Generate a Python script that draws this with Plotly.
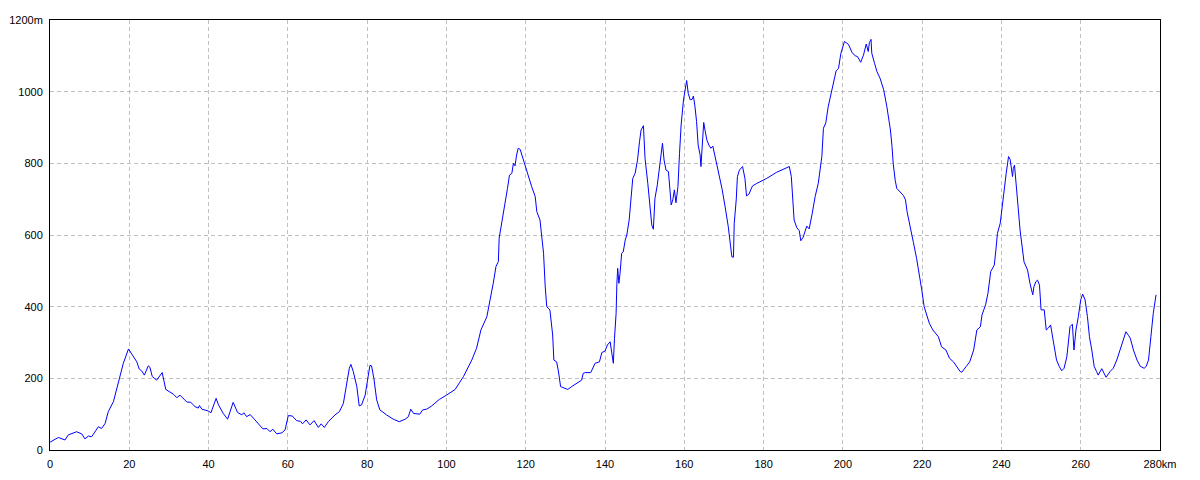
"""標高プロファイル（Plotly）"""
import plotly.graph_objects as go

# 距離 (km)
dist_km = [
    0.0, 0.2, 2.1, 3.8, 4.6, 6.7, 8.0, 8.8, 9.7, 10.5, 12.2, 13.0, 13.9, 14.7, 16.0, 16.8,
    17.7, 18.5, 19.8, 21.0, 21.9, 22.5, 23.1, 23.8, 24.8, 25.2, 25.8, 26.9, 28.3, 29.2, 30.3,
    31.1, 32.0, 32.8, 34.5, 35.5, 36.6, 37.4, 37.7, 38.3, 39.9, 40.6, 41.9, 42.5, 43.7, 44.8,
    46.2, 47.3, 48.4, 48.9, 49.6, 50.5, 51.7, 53.0, 53.7, 54.7, 55.5, 56.2, 57.2, 58.5, 59.3,
    60.1, 61.1, 62.2, 63.2, 63.7, 64.6, 65.6, 66.6, 67.7, 68.4, 69.2, 70.2, 71.9, 73.0, 74.0,
    74.8, 75.5, 75.9, 76.5, 77.4, 78.0, 78.6, 79.5, 80.1, 80.7, 81.1, 81.7, 82.4, 83.2, 84.9,
    86.6, 88.1, 89.6, 90.4, 91.0, 91.7, 93.3, 94.0, 95.0, 96.3, 97.6, 98.2, 100.0, 102.2,
    104.3, 106.4, 107.6, 108.7, 110.2, 111.0, 111.8, 112.5, 113.1, 113.3, 113.9, 114.8, 115.4,
    115.9, 116.5, 116.9, 117.3, 117.7, 118.1, 118.6, 119.4, 120.3, 121.5, 122.4, 122.8, 123.6,
    124.0, 124.5, 124.9, 125.3, 126.1, 126.8, 127.1, 127.8, 128.2, 128.8, 129.9, 130.6, 131.6,
    133.3, 134.1, 134.5, 135.0, 136.4, 137.5, 138.6, 139.2, 140.0, 140.6, 141.3, 141.7, 142.1,
    142.4, 142.8, 143.0, 143.2, 143.5, 143.8, 144.2, 144.6, 145.1, 145.5, 146.1, 146.5, 147.0,
    147.6, 148.2, 148.7, 149.1, 149.7, 150.1, 150.8, 151.4, 151.8, 152.2, 152.6, 153.2, 153.7,
    154.1, 154.5, 154.9, 155.4, 156.0, 156.4, 156.7, 157.1, 157.5, 157.9, 158.4, 158.8, 159.2,
    159.8, 160.3, 160.6, 161.0, 161.5, 162.0, 162.3, 162.7, 163.1, 163.5, 164.0, 164.2, 164.6,
    164.9, 165.3, 165.7, 166.2, 166.7, 167.2, 167.8, 168.6, 169.5, 170.3, 171.1, 171.7, 172.0,
    172.4, 172.6, 173.1, 173.4, 173.9, 174.7, 175.3, 175.7, 176.3, 177.2, 178.3, 180.8, 183.3,
    185.8, 186.5, 187.0, 187.3, 187.7, 188.4, 189.0, 189.4, 190.0, 190.9, 191.5, 192.2, 193.0,
    193.8, 194.7, 195.1, 195.7, 196.3, 197.2, 197.8, 198.3, 198.9, 199.5, 200.4, 201.4, 202.3,
    203.1, 203.7, 204.5, 205.2, 205.9, 206.4, 206.7, 207.1, 207.3, 208.0, 208.6, 209.4, 210.3,
    211.1, 212.0, 212.4, 212.7, 213.2, 213.6, 215.3, 215.8, 216.2, 217.2, 217.8, 218.6, 219.4,
    219.9, 220.5, 221.2, 221.8, 222.7, 224.1, 224.9, 226.0, 226.9, 227.9, 229.6, 230.0, 231.1,
    232.0, 233.0, 233.8, 234.7, 235.1, 236.0, 236.6, 237.3, 238.2, 238.6, 239.0, 239.7, 240.1,
    240.7, 241.2, 241.8, 242.2, 242.8, 243.0, 243.3, 243.9, 244.7, 245.7, 246.6, 247.2, 247.9,
    248.2, 248.7, 249.1, 249.6, 250.0, 250.8, 251.3, 251.8, 252.4, 253.1, 253.9, 254.6, 255.2,
    255.8, 256.5, 257.3, 257.9, 258.3, 258.8, 259.4, 260.0, 260.5, 261.1, 261.7, 262.2, 262.8,
    263.4, 264.0, 264.4, 265.3, 265.9, 266.4, 267.4, 268.2, 269.1, 270.1, 270.8, 271.4, 272.1,
    272.5, 273.3, 274.2, 275.0, 276.0, 276.5, 277.1, 277.7, 278.3, 279.0,
]

# 標高 (m)
elev_m = [
    22, 23, 35, 28, 42, 51, 45, 31, 39, 37, 65, 60, 74, 107, 135, 167,
    205, 242, 282, 260, 246, 226, 221, 209, 235, 231, 205, 195, 216, 169, 160,
    156, 146, 153, 134, 133, 121, 117, 124, 114, 109, 104, 144, 126, 102, 86,
    133, 105, 98, 104, 93, 99, 84, 67, 59, 60, 51, 58, 45, 48, 56,
    96, 95, 82, 80, 73, 84, 70, 82, 63, 73, 63, 79, 98, 107, 130,
    177, 228, 239, 219, 177, 123, 126, 153, 195, 236, 235, 200, 140, 112, 98,
    86, 79, 86, 93, 114, 102, 100, 112, 114, 123, 135, 141, 153, 169,
    205, 251, 284, 335, 372, 414, 465, 512, 526, 591, 628, 684, 730,
    767, 772, 800, 793, 823, 842, 839, 809, 777, 735, 707, 665, 642,
    595, 549, 460, 400, 391, 321, 251, 246, 223, 177, 172, 169, 177,
    191, 195, 214, 216, 216, 242, 246, 272, 276, 293, 302, 265, 242,
    312, 381, 465, 507, 465, 493, 549, 553, 586, 600, 642, 707, 758,
    772, 809, 860, 893, 905, 814, 744, 674, 628, 616, 702, 740, 781,
    823, 856, 809, 781, 777, 707, 684, 698, 726, 690, 735, 828, 907,
    977, 1019, 1031, 995, 977, 979, 988, 958, 916, 851, 823, 791, 865,
    914, 888, 865, 851, 842, 848, 819, 772, 730, 679, 623, 567, 539,
    538, 633, 698, 763, 781, 791, 758, 709, 714, 737, 744, 758, 775,
    789, 791, 763, 698, 642, 620, 612, 584, 594, 625, 617, 656, 707,
    744, 819, 898, 913, 958, 1005, 1037, 1058, 1065, 1107, 1140, 1132, 1110,
    1100, 1098, 1082, 1102, 1133, 1112, 1137, 1146, 1107, 1079, 1056, 1037, 1005,
    958, 893, 847, 800, 753, 730, 710, 698, 665, 605, 579, 535, 484,
    447, 400, 372, 354, 335, 316, 288, 279, 256, 246, 219, 217, 233,
    246, 279, 335, 344, 377, 405, 437, 498, 516, 558, 605, 633, 674,
    716, 772, 819, 811, 763, 786, 795, 707, 614, 525, 502, 465, 433,
    456, 470, 474, 460, 391, 391, 335, 340, 349, 298, 251, 233, 221,
    228, 260, 344, 351, 279, 335, 372, 419, 435, 419, 372, 316, 279,
    233, 219, 209, 227, 214, 203, 219, 228, 251, 284, 307, 330, 319,
    312, 279, 251, 234, 228, 233, 251, 316, 381, 433,
]

x_ticks = list(range(0, 281, 20))
x_labels = [str(v) for v in x_ticks[:-1]] + ["280km"]
y_ticks = list(range(0, 1201, 200))
y_labels = [str(v) for v in y_ticks[:-1]] + ["1200m"]

fig = go.Figure()
fig.add_trace(go.Scatter(
    x=dist_km, y=elev_m, mode="lines",
    line=dict(color="#0000ff", width=1), showlegend=False, hoverinfo="skip"))

axis_common = dict(
    showline=True, linecolor="black", linewidth=1, mirror=True,
    showgrid=True, gridcolor="#c0c0c0", gridwidth=1, griddash="4px,3px",
    zeroline=False, ticks="", ticklabelstandoff=4, automargin=False,
    tickfont=dict(family="Liberation Sans, Arial, sans-serif", size=11, color="black"),
)
fig.update_xaxes(range=[0, 280], tickvals=x_ticks, ticktext=x_labels, **axis_common)
fig.update_yaxes(range=[0, 1200], tickvals=y_ticks, ticktext=y_labels, **axis_common)

# ページ本体の余白 (8px) を差し引いた余白
fig.update_layout(
    width=1200, height=480,
    margin=dict(l=42, r=48, t=12, b=38),
    paper_bgcolor="white", plot_bgcolor="white",
)
fig.write_html("out.html")
